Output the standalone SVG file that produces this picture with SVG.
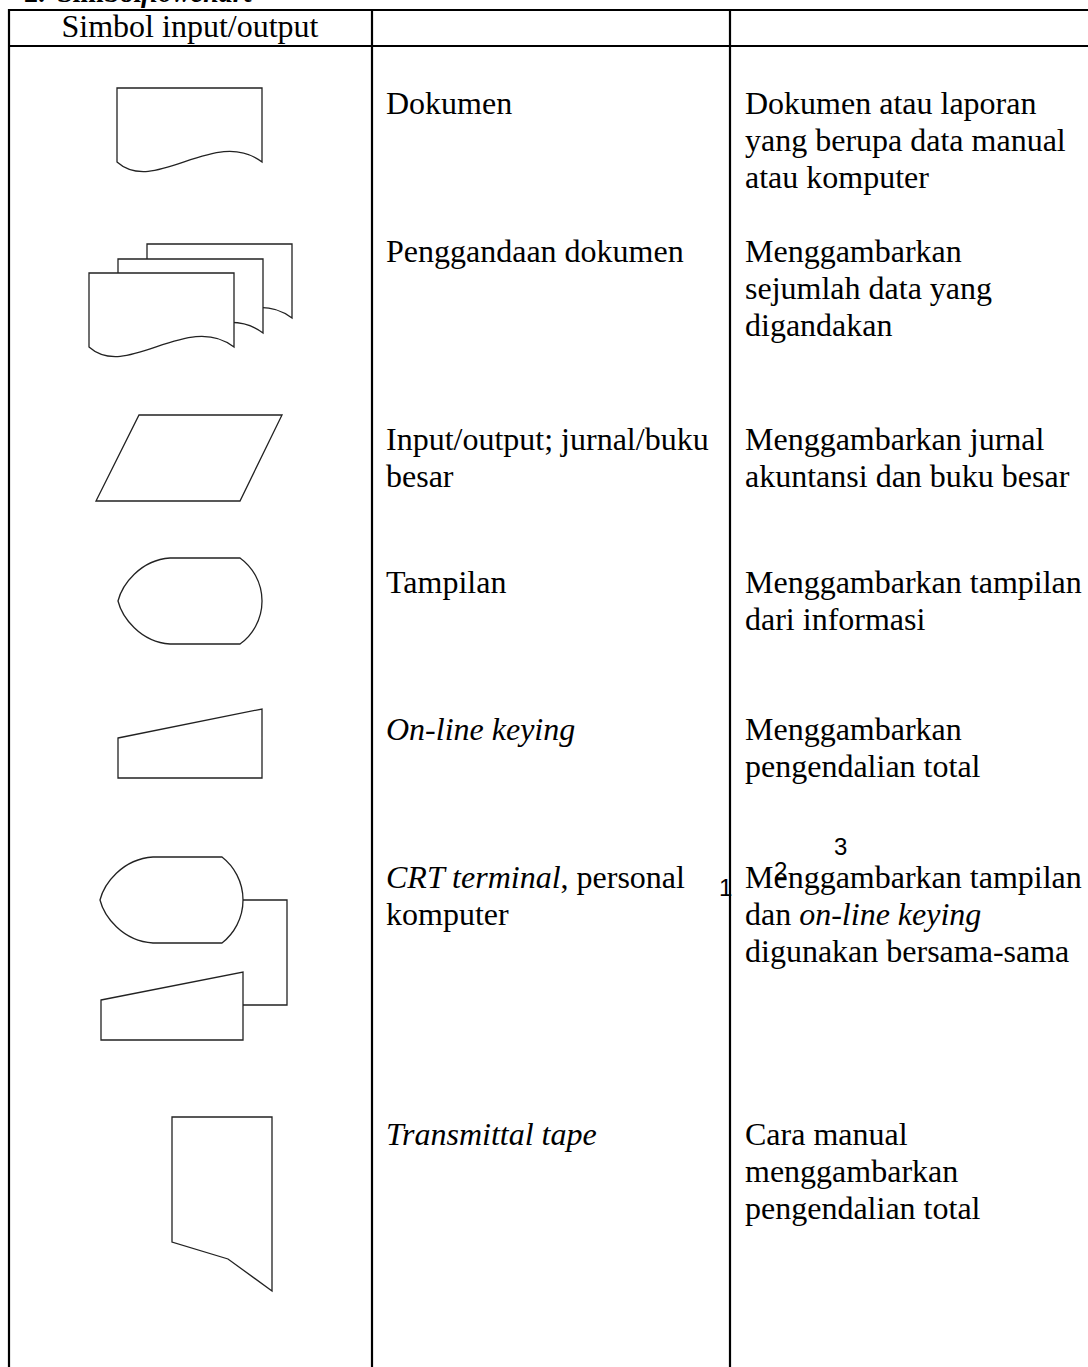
<svg xmlns="http://www.w3.org/2000/svg" xmlns:xlink="http://www.w3.org/1999/xlink" width="1088" height="1367" viewBox="0 0 1088 1367">
<style>
.t{font-family:"Liberation Serif","Times New Roman",serif;font-size:32px;fill:#000}
.i{font-style:italic}
.n{font-family:"Liberation Sans",Arial,sans-serif;font-size:24px;fill:#000}
.grid{stroke:#000;stroke-width:2.2;fill:none}
.sh{stroke:#222;stroke-width:1.3;fill:#fff;stroke-linejoin:miter}
.ln{stroke:#222;stroke-width:1.3;fill:none}
</style>
<defs>
<path id="doc" d="M0,0 H145 V74 C98,38 38,108 0,74 Z"/>
</defs>
<rect width="1088" height="1367" fill="#fff"/>
<text class="t" x="24" y="2" font-size="28" font-weight="bold" style="font-size:28px">2.  <tspan x="57">Simbol</tspan><tspan font-style="italic">flowchart</tspan></text>
<g id="table" class="grid">
<line x1="8" y1="10" x2="1088" y2="10"/>
<line x1="8" y1="46" x2="1088" y2="46"/>
<line x1="9" y1="9" x2="9" y2="1367"/>
<line x1="372" y1="9" x2="372" y2="1367"/>
<line x1="730" y1="9" x2="730" y2="1367"/>
</g>
<g id="header"><text class="t" x="190" y="37" text-anchor="middle">Simbol input/output</text></g>

<g id="dokumen">
<use xlink:href="#doc" href="#doc" class="sh" transform="translate(117,88)"/>
<text class="t" x="386" y="114">Dokumen</text>
<text class="t" x="745" y="114">Dokumen atau laporan</text>
<text class="t" x="745" y="151">yang berupa data manual</text>
<text class="t" x="745" y="188">atau komputer</text>
</g>

<g id="penggandaan">
<use xlink:href="#doc" href="#doc" class="sh" transform="translate(147,244)"/>
<use xlink:href="#doc" href="#doc" class="sh" transform="translate(118,259)"/>
<use xlink:href="#doc" href="#doc" class="sh" transform="translate(89,273)"/>
<text class="t" x="386" y="262">Penggandaan dokumen</text>
<text class="t" x="745" y="262">Menggambarkan</text>
<text class="t" x="745" y="299">sejumlah data yang</text>
<text class="t" x="745" y="336">digandakan</text>
</g>

<g id="inputoutput">
<polygon class="sh" points="139,415 282,415 240,501 96,501"/>
<text class="t" x="386" y="450">Input/output; jurnal/buku</text>
<text class="t" x="386" y="487">besar</text>
<text class="t" x="745" y="450">Menggambarkan jurnal</text>
<text class="t" x="745" y="487">akuntansi dan buku besar</text>
</g>

<g id="tampilan">
<path class="sh" d="M170,558 H240 A53,53 0 0 1 240,644 H170 C140,642 122,617 118,601 C122,585 140,560 170,558 Z"/>
<text class="t" x="386" y="593">Tampilan</text>
<text class="t" x="745" y="593">Menggambarkan tampilan</text>
<text class="t" x="745" y="630">dari informasi</text>
</g>

<g id="online">
<polygon class="sh" points="118,738 262,709 262,778 118,778"/>
<text class="t i" x="386" y="740">On-line keying</text>
<text class="t" x="745" y="740">Menggambarkan</text>
<text class="t" x="745" y="777">pengendalian total</text>
</g>

<g id="crt">
<path class="sh" d="M153,857 H222 A54.5,54.5 0 0 1 222,943 H153 C122,941 104,916 100,900 C104,884 122,859 153,857 Z"/>
<polygon class="sh" points="101,1000 243,972 243,1040 101,1040"/>
<text class="t" x="386" y="888"><tspan class="i">CRT terminal</tspan>, personal</text>
<text class="t" x="386" y="925">komputer</text>
<text class="t" x="745" y="888">Menggambarkan tampilan</text>
<text class="t" x="745" y="925">dan <tspan class="i">on-line keying</tspan></text>
<text class="t" x="745" y="962">digunakan bersama-sama</text>
</g>

<g id="connectors">
<polyline class="ln" points="243,900 287,900 287,1005 243,1005"/>
</g>

<g id="transmittal">
<polygon class="sh" points="172,1117 272,1117 272,1291 228,1259 172,1242"/>
<text class="t i" x="386" y="1145">Transmittal tape</text>
<text class="t" x="745" y="1145">Cara manual</text>
<text class="t" x="745" y="1182">menggambarkan</text>
<text class="t" x="745" y="1219">pengendalian total</text>
</g>

<g id="marks">
<text class="n" x="834" y="855">3</text>
<text class="n" x="774" y="879">2</text>
<text class="n" x="719" y="896">1</text>
</g>
</svg>
